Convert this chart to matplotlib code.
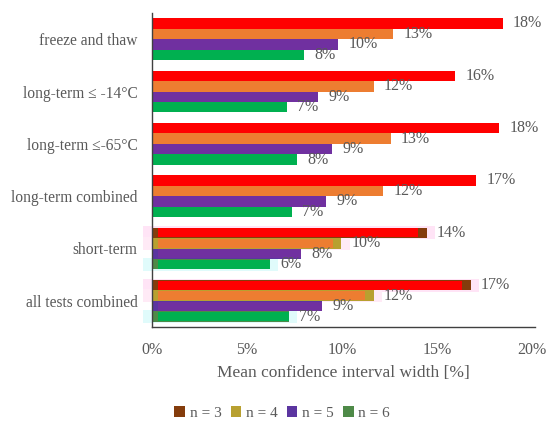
import matplotlib
matplotlib.use("Agg")
import matplotlib.pyplot as plt
import numpy as np
from matplotlib.patches import Patch

categories = ["freeze and thaw", "long-term ≤ -14°C", "long-term ≤-65°C",
              "long-term combined", "short-term", "all tests combined"]
series_names = ["n = 3", "n = 4", "n = 5", "n = 6"]
n3 = [18.46, 15.96, 18.28, 17.05, 14.45, 16.77]
n4 = [12.70, 11.67, 12.56, 12.18, 9.96, 11.67]
n5 = [9.80, 8.75, 9.46, 9.14, 7.86, 8.96]
n6 = [8.00, 7.10, 7.63, 7.37, 6.20, 7.20]
xticks = [0, 5, 10, 15, 20]
xtick_labels = ["0%", "5%", "10%", "15%", "20%"]

bar_colors = ["#FF0000", "#ED7D31", "#7030A0", "#00B050"]
legend_colors = ["#843C0C", "#B8A030", "#5B35A0", "#4E8A48"]
halo_colors = ["#FFE4F6", "#FFEAF6", None, "#E0FBFB"]
text_color = "#595959"
font = "Liberation Serif"

plt.rcParams["font.family"] = [font, "DejaVu Serif"]

fig = plt.figure(figsize=(5.5, 4.32), dpi=100)
ax = fig.add_axes([152/550, 1-327/432, 383/550, 314/432])

values = [n3, n4, n5, n6]
y = np.arange(len(categories))
h = 0.2
edited = {4, 5}
for k, vals in enumerate(values):
    ypos = y - 0.3 + k * h
    for i, v in enumerate(vals):
        if i in edited:
            if halo_colors[k]:
                ax.barh(ypos[i], v + 0.9, left=-0.45, height=h * 1.25,
                        color=halo_colors[k], linewidth=0, clip_on=False, zorder=0)
            ax.barh(ypos[i], v, height=h, color=legend_colors[k], linewidth=0, zorder=1)
            trim = 0.45 if k < 2 else 0.0
            ax.barh(ypos[i], v - 0.3 - trim, left=0.3, height=h * 0.85,
                    color=bar_colors[k], linewidth=0, zorder=2)
        else:
            ax.barh(ypos[i], v, height=h, color=bar_colors[k], linewidth=0, zorder=1)
        ax.annotate(f"{round(v)}%", xy=(v, ypos[i]), xytext=(7.5, 0),
                    textcoords="offset points", va="center", ha="left",
                    fontsize=11.5, color=text_color, zorder=3)

ax.set_ylim(len(categories) - 0.5, -0.5)
ax.set_xlim(0, 20.16)
ax.set_yticks(y)
ax.set_yticklabels(categories, fontsize=11.2, color=text_color)
ax.set_xticks(xticks)
ax.set_xticklabels(xtick_labels, fontsize=11.5, color=text_color)
ax.tick_params(axis="both", length=0)
ax.tick_params(axis="x", pad=11)
ax.tick_params(axis="y", pad=10.5)
for s in ["top", "right"]:
    ax.spines[s].set_visible(False)
for s in ["left", "bottom"]:
    ax.spines[s].set_color("#404040")
    ax.spines[s].set_linewidth(1.0)
    ax.spines[s].set_zorder(4)
ax.set_xlabel("Mean confidence interval width [%]", fontsize=12.5,
              color=text_color, labelpad=5)

handles = [Patch(facecolor=c, edgecolor="none") for c in legend_colors]
fig.legend(handles, series_names, loc="center", bbox_to_anchor=(0.513, 1-413/432),
           ncol=4, frameon=False, fontsize=11, handlelength=0.7, handleheight=0.7,
           handletextpad=0.3, columnspacing=0.6, labelcolor=text_color)

fig.savefig("out.png", dpi=100)
